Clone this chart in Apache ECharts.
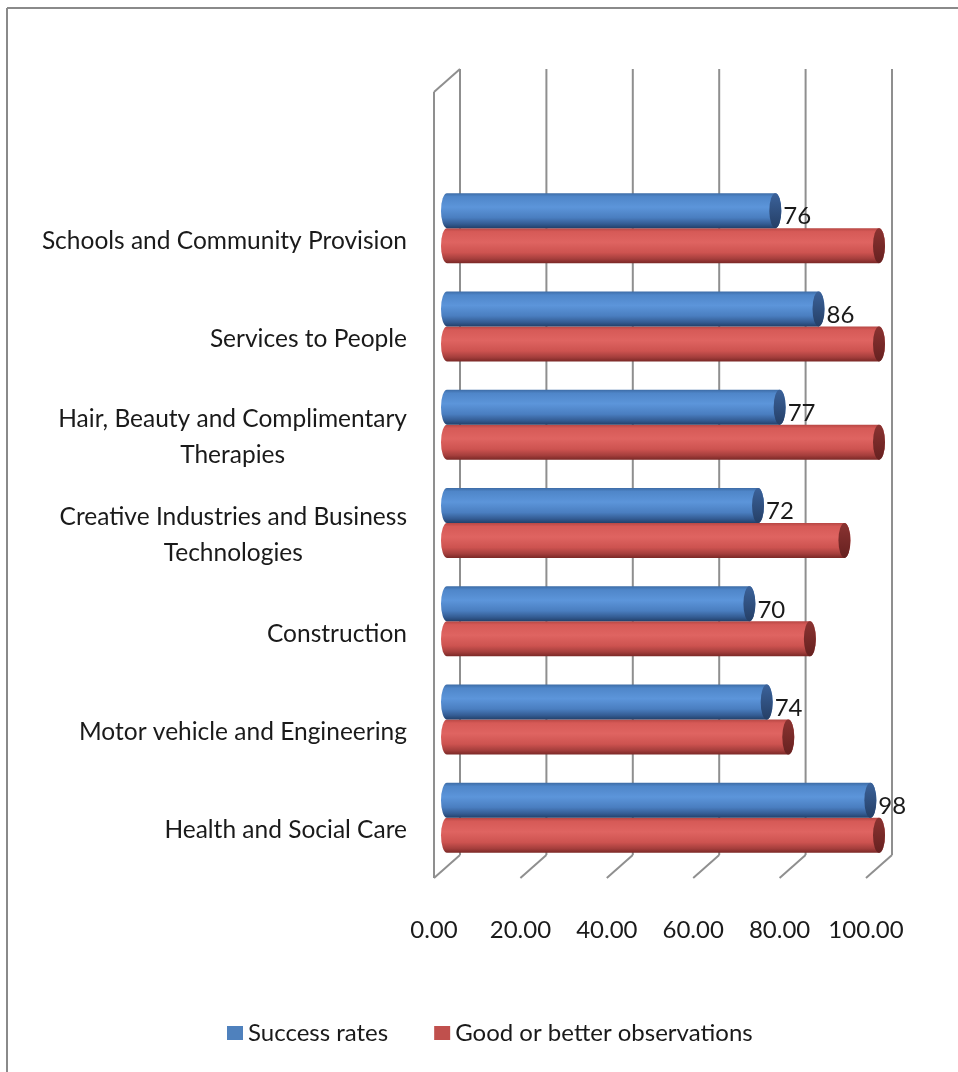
<!DOCTYPE html>
<html>
<head>
<meta charset="utf-8">
<script src="https://cdn.jsdelivr.net/npm/echarts@6/dist/echarts.min.js"></script>
<style>
html,body{margin:0;padding:0;background:#fff;}
#chart{width:958px;height:1072px;}
</style>
</head>
<body>
<div id="chart"></div>
<script>
// ---- data ----
const categories = [
  'Health and Social Care',
  'Motor vehicle and Engineering',
  'Construction',
  'Creative Industries and Business\nTechnologies',
  'Hair, Beauty and Complimentary\nTherapies',
  'Services to People',
  'Schools and Community Provision'
];
const successRates = [98, 74, 70, 72, 77, 86, 76];
const goodObservations = [100, 79, 84, 92, 100, 100, 100];
const xTicks = [0, 20, 40, 60, 80, 100];
const seriesNames = ['Success rates', 'Good or better observations'];

// ---- style ----
const FONT = 'Lato';
const DEPTH_X = 26, DEPTH_Y = 23;   // 3D wall depth (px)
const BAR_RATIO = 0.356;            // each bar's share of the category band
const CAP_RX = 6;
const GRID_COLOR = '#8f8f8f';

const blueBody = [
  {offset: 0, color: '#3d6ca6'}, {offset: 0.1, color: '#4f86c9'},
  {offset: 0.4, color: '#5c95da'}, {offset: 0.7, color: '#4a7ec0'},
  {offset: 0.88, color: '#345c93'}, {offset: 1, color: '#22406a'}
];
const redBody = [
  {offset: 0, color: '#b74744'}, {offset: 0.1, color: '#d65a57'},
  {offset: 0.4, color: '#df6461'}, {offset: 0.7, color: '#cd5350'},
  {offset: 0.88, color: '#a43e3c'}, {offset: 1, color: '#7a2826'}
];
const blueCap = [{offset: 0, color: '#3b629a'}, {offset: 1, color: '#253f66'}];
const redCap = [{offset: 0, color: '#8a3331'}, {offset: 1, color: '#662120'}];

function cylinderRenderer(isUpper, bodyStops, capStops, withLabel) {
  return function (params, api) {
    const cat = api.value(0);
    const val = api.value(1);
    const base = api.coord([0, cat]);
    const end = api.coord([val, cat]);
    const band = api.size([0, 1])[1];
    const h = band * BAR_RATIO;
    const yTop = isUpper ? base[1] - h : base[1];
    const yBot = yTop + h;
    const x0 = base[0], x1 = end[0];
    const ry = h / 2;
    const bodyPath =
      'M' + x0 + ' ' + yTop + ' L' + x1 + ' ' + yTop +
      ' A' + CAP_RX + ' ' + ry + ' 0 0 1 ' + x1 + ' ' + yBot +
      ' L' + x0 + ' ' + yBot +
      ' A' + CAP_RX + ' ' + ry + ' 0 0 1 ' + x0 + ' ' + yTop + ' Z';
    const capPath =
      'M' + x1 + ' ' + yTop +
      ' A' + CAP_RX + ' ' + ry + ' 0 0 1 ' + x1 + ' ' + yBot +
      ' A' + CAP_RX + ' ' + ry + ' 0 0 1 ' + x1 + ' ' + yTop + ' Z';
    const children = [
      {type: 'path', shape: {pathData: bodyPath},
       style: {fill: new echarts.graphic.LinearGradient(0, 0, 0, 1, bodyStops)}},
      {type: 'path', shape: {pathData: capPath},
       style: {fill: new echarts.graphic.LinearGradient(0, 0, 0, 1, capStops)}}
    ];
    if (withLabel) {
      children.push({
        type: 'text',
        style: {
          text: String(val), x: x1 + CAP_RX + 2, y: yTop + h / 2 + 6,
          fill: '#1a1a1a', font: '24px ' + FONT,
          align: 'left', verticalAlign: 'middle'
        }
      });
    }
    return {type: 'group', children: children};
  };
}

function wallRenderer(params, api) {
  const v = api.value(0);
  const fb = api.coord([v, 0]);   // front bottom
  const ft = api.coord([v, 1]);   // front top
  const lineStyle = {stroke: GRID_COLOR, lineWidth: 2};
  const children = [
    {type: 'line', shape: {x1: fb[0] + DEPTH_X, y1: ft[1] - DEPTH_Y, x2: fb[0] + DEPTH_X, y2: fb[1] - DEPTH_Y}, style: lineStyle},
    {type: 'line', shape: {x1: fb[0] + DEPTH_X, y1: fb[1] - DEPTH_Y, x2: fb[0], y2: fb[1]}, style: lineStyle}
  ];
  if (params.dataIndex === 0) {
    children.push(
      {type: 'line', shape: {x1: fb[0], y1: fb[1], x2: ft[0], y2: ft[1]}, style: lineStyle},
      {type: 'line', shape: {x1: ft[0], y1: ft[1], x2: ft[0] + DEPTH_X, y2: ft[1] - DEPTH_Y}, style: lineStyle}
    );
  }
  return {type: 'group', children: children};
}

const chart = echarts.init(document.getElementById('chart'));
chart.setOption({
  animation: false,
  backgroundColor: '#ffffff',
  graphic: [
    {type: 'line', shape: {x1: 7, y1: 8, x2: 958, y2: 8}, style: {stroke: '#8a8a8a', lineWidth: 2}},
    {type: 'line', shape: {x1: 7, y1: 8, x2: 7, y2: 1072}, style: {stroke: '#8a8a8a', lineWidth: 2}}
  ],
  legend: {
    data: seriesNames,
    top: 1016,
    left: 222,
    itemWidth: 16, itemHeight: 14, itemGap: 46,
    icon: 'rect',
    textStyle: {fontFamily: FONT, fontSize: 24, color: '#1a1a1a'}
  },
  grid: [
    {left: 447, width: 432, top: 179, height: 688},
    {left: 434, width: 432, top: 92, height: 786}
  ],
  xAxis: [
    {type: 'value', gridIndex: 0, min: 0, max: 100, show: false},
    {type: 'value', gridIndex: 1, min: 0, max: 100, interval: 20,
     axisLine: {show: false}, axisTick: {show: false}, splitLine: {show: false},
     axisLabel: {margin: 40, interval: 0, formatter: v => v.toFixed(2),
                 fontFamily: FONT, fontSize: 24, color: '#1a1a1a'}}
  ],
  yAxis: [
    {type: 'category', gridIndex: 0, data: categories,
     axisLine: {show: false}, axisTick: {show: false}, splitLine: {show: false},
     axisLabel: {
       margin: 40, interval: 0, padding: [25, 0, 0, 0],
       formatter: s => s.split('\n').map(l => '{c|' + l + '}').join('\n'),
       rich: {c: {align: 'center', fontFamily: FONT, fontSize: 24.5, lineHeight: 36, color: '#1a1a1a'}},
       fontFamily: FONT, fontSize: 24.5, lineHeight: 36, color: '#1a1a1a'
     }},
    {type: 'value', gridIndex: 1, min: 0, max: 1, show: false}
  ],
  series: [
    {type: 'custom', name: 'walls', xAxisIndex: 1, yAxisIndex: 1, silent: true,
     renderItem: wallRenderer, data: xTicks.map(v => [v]), encode: {x: 0}, z: 1},
    {type: 'custom', name: seriesNames[1], xAxisIndex: 0, yAxisIndex: 0,
     itemStyle: {color: '#C0504D'},
     renderItem: cylinderRenderer(false, redBody, redCap, false),
     data: goodObservations.map((v, i) => [i, v]), encode: {y: 0, x: 1}, z: 2},
    {type: 'custom', name: seriesNames[0], xAxisIndex: 0, yAxisIndex: 0,
     itemStyle: {color: '#4F81BD'},
     renderItem: cylinderRenderer(true, blueBody, blueCap, true),
     data: successRates.map((v, i) => [i, v]), encode: {y: 0, x: 1}, z: 3}
  ]
});
</script>
</body>
</html>
